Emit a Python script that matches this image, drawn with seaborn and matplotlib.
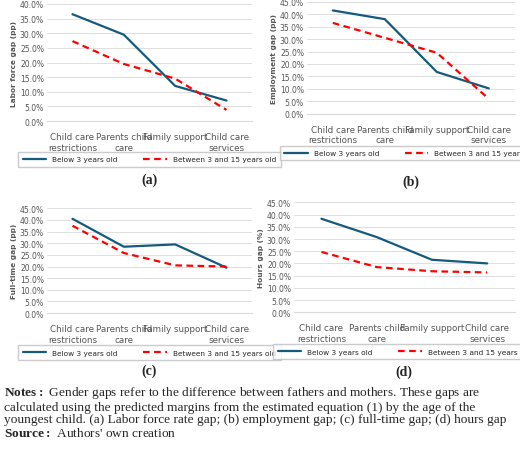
import matplotlib
matplotlib.use("Agg")
import matplotlib.pyplot as plt
import seaborn as sns
import pandas as pd
from matplotlib.ticker import PercentFormatter

categories = ["Child care\nrestrictions", "Parents child\ncare", "Family support", "Child care\nservices"]
series_names = ["Below 3 years old", "Between 3 and 15 years old"]

labor_below = [36.5, 29.5, 12.0, 7.0]
labor_between = [27.3, 19.5, 14.5, 3.8]
emp_below = [41.5, 38.0, 16.8, 10.2]
emp_between = [36.5, 30.5, 24.5, 6.0]
full_below = [40.5, 28.5, 29.5, 19.5]
full_between = [37.5, 25.8, 20.5, 20.0]
hours_below = [38.3, 30.8, 21.5, 20.0]
hours_between = [24.7, 18.5, 16.8, 16.3]

# letter, y label, series, y max, axes rect, legend offset, letter offset
panels = [
    ("(a)", "Labor force gap (pp)", labor_below, labor_between, 40, [0.09, 0.73, 0.395, 0.259], -0.23, -0.5),
    ("(b)", "Employment gap (pp)", emp_below, emp_between, 45, [0.59, 0.746, 0.40, 0.248], -0.25, -0.6),
    ("(c)", "Full-time gap (pp)", full_below, full_between, 45, [0.09, 0.305, 0.395, 0.232], -0.27, -0.54),
    ("(d)", "Hours gap (%)", hours_below, hours_between, 45, [0.565, 0.307, 0.425, 0.243], -0.26, -0.54),
]

sns.set_style("white")
plt.rcParams["font.family"] = ["DejaVu Sans"]
plt.rcParams["mathtext.fontset"] = "custom"
plt.rcParams["mathtext.rm"] = "Liberation Serif"
plt.rcParams["mathtext.bf"] = "Liberation Serif:bold"
fig = plt.figure(figsize=(5.2, 4.52), dpi=100)
palette = {series_names[0]: "#155a7c", series_names[1]: "#ff0000"}

for letter, ylabel, below, between, ymax, rect, leg_y, let_y in panels:
    ax = fig.add_axes(rect)
    df = pd.DataFrame({
        "x": list(range(4)) * 2,
        "value": below + between,
        "series": [series_names[0]] * 4 + [series_names[1]] * 4,
    })
    sns.lineplot(data=df, x="x", y="value", hue="series", style="series",
                 dashes={series_names[0]: "", series_names[1]: (3, 2)},
                 palette=palette, linewidth=1.6, ax=ax)
    ax.set_xlim(-0.5, 3.5)
    ax.set_ylim(0, ymax)
    ax.set_yticks(range(0, ymax + 1, 5))
    ax.yaxis.set_major_formatter(PercentFormatter(decimals=1))
    ax.set_xticks(range(4))
    ax.set_xticklabels(categories)
    ax.tick_params(axis="y", length=0, labelsize=5.5, colors="#555555", pad=2)
    ax.tick_params(axis="x", length=0, labelsize=6.3, colors="#555555", pad=8)
    ax.grid(axis="y", color="#d9d9d9", linewidth=0.6)
    for s in ["top", "right", "left"]:
        ax.spines[s].set_visible(False)
    ax.spines["bottom"].set_color("#d9d9d9")
    ax.set_xlabel("")
    ax.set_ylabel(ylabel, fontsize=5.3, color="#555555", fontweight="bold", labelpad=2)
    ax.legend(loc="upper center", bbox_to_anchor=(0.5, leg_y), ncol=2,
              fontsize=5.3, frameon=True, fancybox=False, edgecolor="#bfbfbf",
              handlelength=3.2, columnspacing=3.5, borderpad=0.6)
    ax.text(0.5, let_y, letter, transform=ax.transAxes, ha="center", va="center",
            fontsize=10, fontweight="bold", family="Liberation Serif")

notes = (r"$\bf{Notes:}$ Gender gaps refer to the difference between fathers and mothers. These gaps are" "\n"
         "calculated using the predicted margins from the estimated equation (1) by the age of the\n"
         "youngest child. (a) Labor force rate gap; (b) employment gap; (c) full-time gap; (d) hours gap\n"
         r"$\bf{Source:}$ Authors' own creation")
fig.text(0.008, 0.148, notes, fontsize=9.6, family="Liberation Serif", va="top", linespacing=1.05)

fig.savefig("out.png", dpi=100)
